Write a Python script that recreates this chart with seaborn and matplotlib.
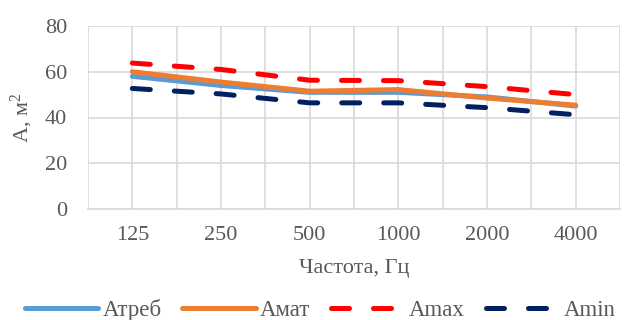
import matplotlib
matplotlib.use("Agg")
import matplotlib.pyplot as plt
import seaborn as sns
import pandas as pd
import numpy as np

freqs = ["125", "250", "500", "1000", "2000", "4000"]
a_treb = [58, 54, 51, 51, 49, 45]
a_mat = [60, 55.5, 51.5, 52.2, 48.5, 45.4]
a_max = [63.8, 61.0, 56.3, 56.1, 53.5, 50.0]
a_min = [52.7, 50.3, 46.4, 46.4, 44.3, 41.2]

series_names = ["Атреб", "Амат", "Amax", "Amin"]
colors = ["#5b9bd5", "#ed7d31", "#ff0000", "#002060"]

df = pd.concat([
    pd.DataFrame({"freq": freqs, "value": vals, "series": name})
    for name, vals in zip(series_names, [a_treb, a_mat, a_max, a_min])
], ignore_index=True)

sns.set_theme(style="white")
plt.rcParams["font.family"] = ["Liberation Serif", "DejaVu Serif"]
plt.rcParams["mathtext.fontset"] = "custom"
plt.rcParams["mathtext.rm"] = "Liberation Serif"
plt.rcParams["mathtext.it"] = "Liberation Serif"

fig = plt.figure(figsize=(6.35, 3.2), dpi=100)
ax = fig.add_axes([88/635, 1 - 209/320, (620-88)/635, (209-26)/320])

dash = (3.6, 4.8)
sns.lineplot(data=df, x="freq", y="value", hue="series", style="series",
             hue_order=series_names, style_order=series_names,
             palette=colors, dashes=["", "", dash, dash],
             linewidth=3.6, sort=False, ax=ax, legend=True)
for ln in ax.get_lines():
    ln.set_dash_capstyle("round")
    ln.set_solid_capstyle("round")

ax.set_xlim(-0.5, 5.5)
ax.set_ylim(0, 80)
ax.set_yticks([0, 20, 40, 60, 80])
ax.set_xticks(range(len(freqs)))
ax.set_xticklabels(freqs)
ax.set_xticks(np.arange(-0.5, 6.0, 1.0), minor=True)
ax.grid(True, which="major", axis="both", color="#d9d9d9", linewidth=1.2)
ax.grid(True, which="minor", axis="x", color="#d9d9d9", linewidth=1.2)
for s in ["top", "right", "left"]:
    ax.spines[s].set_visible(False)
ax.spines["bottom"].set_color("#d9d9d9")
ax.spines["bottom"].set_linewidth(1.2)
ax.tick_params(axis="x", which="both", length=0, labelsize=16, colors="#595959", pad=12)
ax.tick_params(axis="y", which="both", length=0, labelsize=16, colors="#595959", pad=15)
ax.set_xlabel("Частота, Гц", fontsize=16, color="#595959", labelpad=10)
ax.set_ylabel("А, м$^{2}$", fontsize=16, color="#595959", labelpad=7)

handles, labels = ax.get_legend_handles_labels()
for h in handles:
    h.set_linewidth(3.6)
    h.set_dash_capstyle("round")
    h.set_solid_capstyle("round")
ax.legend(handles, labels, loc="upper center", bbox_to_anchor=(0.436, -0.49),
          ncol=4, frameon=False, fontsize=16.5, handlelength=3.2,
          handletextpad=0.2, columnspacing=0.9, labelcolor="#595959",
          borderaxespad=0, borderpad=0)

fig.savefig("out.png", dpi=100)
